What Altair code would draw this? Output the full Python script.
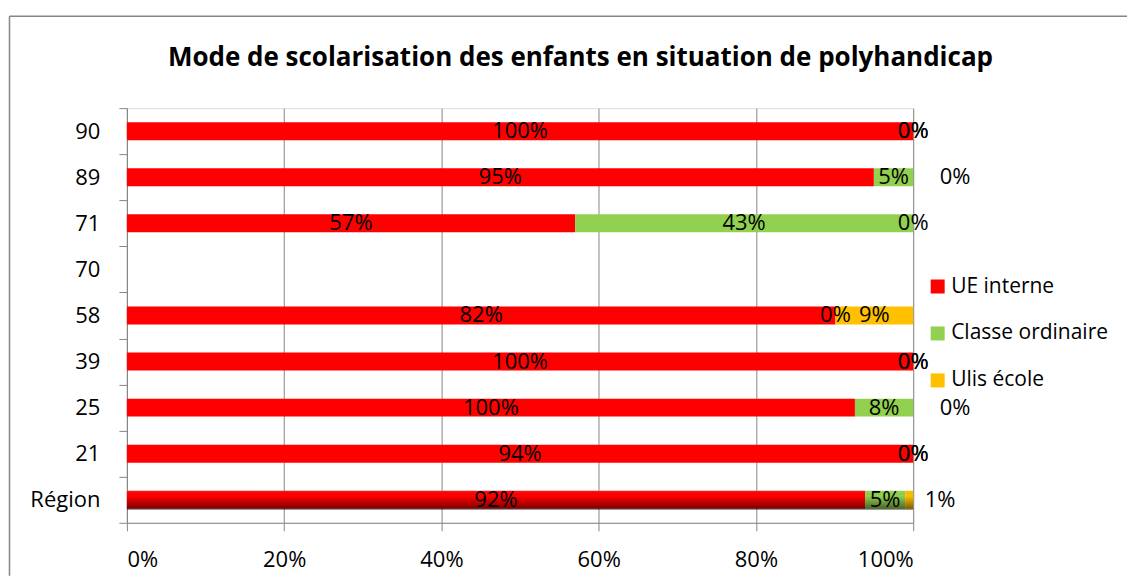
import altair as alt
import pandas as pd
import json

# ---- data ----
categories = ["90", "89", "71", "70", "58", "39", "25", "21", "Région"]
series = ["UE interne", "Classe ordinaire", "Ulis école"]
colors = ["#FF0000", "#92D050", "#FFC000"]

ue_interne = [100, 95, 57, None, 82, 100, 100, 94, 92]
classe_ordinaire = [0, 5, 43, None, 0, 0, 8, 0, 5]
ulis_ecole = [0, 0, 0, None, 9, 0, 0, 0, 1]

# Ulis labels that Excel drew outside the bar
outside_far = ["89", "25"]
outside_near = ["Région"]

title_text = "Mode de scolarisation des enfants en situation de polyhandicap"

rows = []
for i, cat in enumerate(categories):
    for k, (name, vals) in enumerate(zip(series, [ue_interne, classe_ordinaire, ulis_ecole])):
        if vals[i] is None:
            continue
        rows.append({"category": cat, "series": name, "value": vals[i], "order": k})
df = pd.DataFrame(rows)

FONT = "Open Sans"
FS = 22
GRID = "#868686"
W, H = 787, 415
BAR_H = 18

base = alt.Chart(df).transform_joinaggregate(
    total="sum(value)", groupby=["category"]
).transform_window(
    cum="sum(value)", groupby=["category"], sort=[alt.SortField("order")], frame=[None, 0]
).transform_calculate(
    start="(datum.cum - datum.value) / datum.total",
    end="datum.cum / datum.total",
    mid="(datum.cum - datum.value / 2) / datum.total",
    label="datum.value + '%'",
)

yenc = alt.Y(
    "category:N",
    sort=categories,
    scale=alt.Scale(domain=categories, paddingInner=0, paddingOuter=0),
    axis=alt.Axis(
        title=None, tickBand="extent", tickSize=8, tickColor=GRID, domainColor=GRID,
        labelPadding=19, labelFontSize=FS, labelFont=FONT, labelColor="#000000", grid=False,
    ),
)

xscale = alt.Scale(domain=[0, 1], nice=False)

bars = base.mark_bar(height=BAR_H).encode(
    x=alt.X(
        "start:Q", scale=xscale, stack=None,
        axis=alt.Axis(
            title=None, format="%", values=[0, 0.2, 0.4, 0.6, 0.8, 1.0],
            grid=True, gridColor=GRID, gridWidth=1, domainColor=GRID, tickColor=GRID,
            tickSize=8, labelPadding=19, labelFontSize=FS, labelFont=FONT, labelColor="#000000",
        ),
    ),
    x2="end:Q",
    y=yenc,
    color=alt.Color(
        "series:N",
        scale=alt.Scale(domain=series, range=colors),
        legend=alt.Legend(
            title=None, orient="none", legendX=801, legendY=168, symbolType="square",
            symbolSize=196, symbolStrokeWidth=0, labelFontSize=FS - 1, labelFont=FONT,
            labelColor="#000000", rowPadding=25, labelOffset=3, direction="vertical",
        ),
    ),
)

shade = base.transform_filter(alt.datum.category == "Région").mark_bar(
    height=BAR_H + 2,
    color=alt.LinearGradient(
        gradient="linear", x1=0, x2=0, y1=0, y2=1,
        stops=[
            alt.GradientStop(offset=0, color="rgba(255,255,255,0.15)"),
            alt.GradientStop(offset=0.3, color="rgba(0,0,0,0)"),
            alt.GradientStop(offset=1, color="rgba(0,0,0,0.55)"),
        ],
    )
).encode(x=alt.X("start:Q", scale=xscale, stack=None), x2="end:Q", y=yenc)

far_js = json.dumps(outside_far)
near_js = json.dumps(outside_near)
all_js = json.dumps(outside_far + outside_near)
ulis_js = json.dumps(series[2])

txt_common = dict(font=FONT, fontSize=FS, color="#000000", baseline="middle", align="center")

labels_in = base.transform_filter(
    f"!(datum.series === {ulis_js} && indexof({all_js}, datum.category) >= 0)"
).mark_text(**txt_common).encode(
    x=alt.X("mid:Q", scale=xscale), y=yenc, text="label:N"
)
labels_far = base.transform_filter(
    f"datum.series === {ulis_js} && indexof({far_js}, datum.category) >= 0"
).mark_text(dx=42, **txt_common).encode(x=alt.X("mid:Q", scale=xscale), y=yenc, text="label:N")
labels_near = base.transform_filter(
    f"datum.series === {ulis_js} && indexof({near_js}, datum.category) >= 0"
).mark_text(dx=31, **txt_common).encode(x=alt.X("mid:Q", scale=xscale), y=yenc, text="label:N")

one = pd.DataFrame({"t": [title_text]})
title = alt.Chart(one).mark_text(
    font=FONT, fontSize=26, fontWeight="bold", color="#000000", align="center", baseline="middle"
).encode(x=alt.value(454), y=alt.value(-50), text="t:N")

border_left = alt.Chart(one).mark_rule(color=GRID, strokeWidth=1.5).encode(
    x=alt.value(-117.5), y=alt.value(-92), y2=alt.value(468)
)
border_top = alt.Chart(one).mark_rule(color=GRID, strokeWidth=1.5).encode(
    x=alt.value(-117.5), x2=alt.value(1001), y=alt.value(-92)
)

chart = alt.layer(
    bars, shade, labels_in, labels_far, labels_near, title, border_left, border_top
).properties(
    width=W, height=H, padding={"left": 0, "top": 7, "right": 0, "bottom": 0}
).configure_view(stroke=None).configure(background="#FFFFFF")

chart.save("out.html", embed_options={"renderer": "svg", "actions": False})
